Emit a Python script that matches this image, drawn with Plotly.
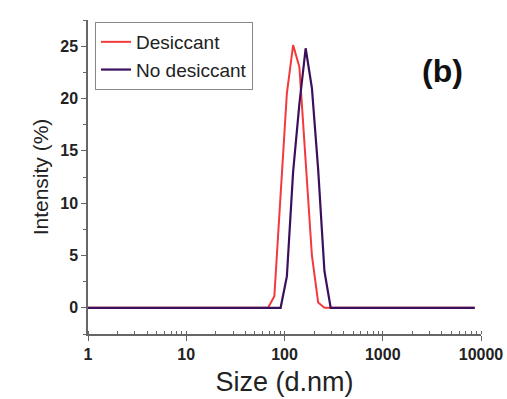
import plotly.graph_objects as go

sizes = [0.9649, 1.117, 1.294, 1.499, 1.736, 2.01, 2.328, 2.696, 3.122, 3.615, 4.187, 4.849,
         5.615, 6.503, 7.531, 8.721, 10.1, 11.7, 13.54, 15.69, 18.17, 21.04, 24.36, 28.21,
         32.67, 37.84, 43.82, 50.75, 58.77, 68.06, 78.82, 91.28, 105.7, 122.4, 141.8, 164.2,
         190.1, 220.2, 255.0, 295.3, 342.0, 396.1, 458.7, 531.2, 615.1, 712.4, 825.0, 955.4,
         1106, 1281, 1484, 1718, 1990, 2305, 2669, 3091, 3580, 4145, 4801, 5560, 6439, 7456, 8635]

peak_sizes = [68.06, 78.82, 91.28, 105.7, 122.4, 141.8, 164.2, 190.1, 220.2, 255.0, 295.3]
desiccant_peak = [0, 1.1, 11.0, 20.5, 25.1, 23.0, 14.0, 5.0, 0.5, 0, 0]
no_desiccant_peak = [0, 0, 0, 3.0, 13.0, 19.5, 24.8, 21.0, 13.2, 3.5, 0]

def full(peak):
    m = dict(zip(peak_sizes, peak))
    return [m.get(s, 0.0) for s in sizes]

desiccant = full(desiccant_peak)
no_desiccant = full(no_desiccant_peak)

x_ticks = [1, 10, 100, 1000, 10000]
y_ticks = [0, 5, 10, 15, 20, 25]

FONT = "Arial, Liberation Sans, sans-serif"

fig = go.Figure()
fig.add_trace(go.Scatter(x=sizes, y=desiccant, mode="lines", name="Desiccant",
                         line=dict(color="#f23a3c", width=2)))
fig.add_trace(go.Scatter(x=sizes, y=no_desiccant, mode="lines", name="No desiccant",
                         line=dict(color="#3a0f5c", width=2.2)))

tick_font = dict(family=FONT, size=16, color="#222", weight="bold")

L, R, T, B = 88, 26, 20, 65
W, H = 507, 399
pw = W - L - R
ph = H - T - B

fig.update_layout(
    width=W, height=H,
    margin=dict(l=L, r=R, t=T, b=B, autoexpand=False),
    paper_bgcolor="white", plot_bgcolor="white",
    font=dict(family=FONT, color="#222"),
    showlegend=True,
    legend=dict(x=(95 - L) / pw, y=(H - B - 22) / ph, xanchor="left", yanchor="top",
                bgcolor="white", bordercolor="#888", borderwidth=1,
                font=dict(size=19, color="#222"), tracegroupgap=0,
                itemwidth=30),
    xaxis=dict(type="log", range=[0, 4], tickvals=x_ticks, automargin=False,
               ticktext=[str(v) for v in x_ticks],
               showgrid=False, zeroline=False, showline=True, linecolor="#666", linewidth=1.5,
               ticks="outside", ticklen=5, tickcolor="#666", tickwidth=1.2,
               tickfont=tick_font,
               minor=dict(ticks="inside", ticklen=3, tickcolor="#666", showgrid=False,
                          dtick="D1"),
               title=dict(text="Size (d.nm)", font=dict(size=27, color="#222"), standoff=10)),
    yaxis=dict(range=[-2.5, 27.5], tickvals=y_ticks, automargin=False,
               showgrid=False, zeroline=False, showline=True, linecolor="#666", linewidth=1.5,
               ticks="outside", ticklen=5, tickcolor="#666", tickwidth=1.2,
               tickfont=tick_font,
               minor=dict(ticks="outside", ticklen=3, tickcolor="#666", dtick=2.5, showgrid=False),
               title=dict(text="Intensity (%)", font=dict(size=21, color="#222"), standoff=6)),
    annotations=[dict(text="<b>(b)</b>", x=(442 - L) / pw, y=(H - B - 71) / ph,
                      xref="paper", yref="paper", xanchor="center", yanchor="middle",
                      showarrow=False, font=dict(size=32, color="#111"))],
)

fig.write_html("out.html")
